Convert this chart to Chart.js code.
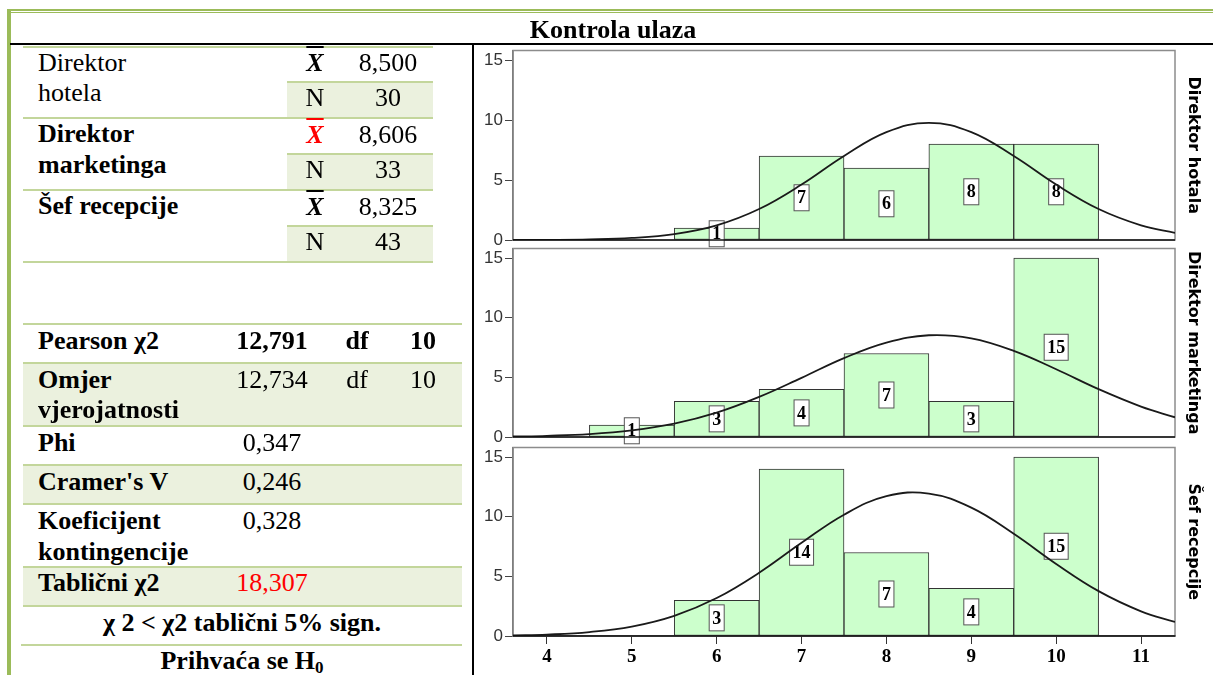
<!DOCTYPE html>
<html>
<head>
<meta charset="utf-8">
<script src="https://cdn.jsdelivr.net/npm/chart.js@4/dist/chart.umd.min.js"></script>
<style>
html,body{margin:0;padding:0;background:#fff;}
body{width:1213px;height:675px;position:relative;overflow:hidden;font-family:"Liberation Serif","Times New Roman",serif;font-size:26px;color:#000;}
.a{position:absolute;white-space:nowrap;line-height:30px;}
.b{font-weight:bold;}
.ln{position:absolute;height:2px;background:#c3d69b;}
.sh{position:absolute;background:#ebf1de;}
.xb{font-weight:bold;font-style:italic;text-decoration:overline;}
.pn{position:absolute;left:473px;width:740px;}
</style>
</head>
<body>
<!-- okvir -->
<div style="position:absolute;left:7px;top:9px;width:1206px;height:2px;background:#9bbb59"></div>
<div style="position:absolute;left:7px;top:12px;width:1206px;height:1px;background:#9bbb59"></div>
<div style="position:absolute;left:7px;top:9px;width:4px;height:666px;background:#9bbb59"></div>
<div style="position:absolute;left:10px;top:43px;width:1203px;height:2px;background:#000"></div>
<div style="position:absolute;left:472px;top:43px;width:2px;height:632px;background:#000"></div>

<!-- gornja tablica -->
<div class="sh" style="left:287px;top:83px;width:146px;height:34px"></div>
<div class="sh" style="left:287px;top:155px;width:146px;height:34px"></div>
<div class="sh" style="left:287px;top:227px;width:146px;height:34px"></div>
<div class="ln" style="left:23px;top:46px;width:410px"></div>
<div class="ln" style="left:287px;top:81px;width:146px"></div>
<div class="ln" style="left:23px;top:117px;width:410px"></div>
<div class="ln" style="left:287px;top:153px;width:146px"></div>
<div class="ln" style="left:23px;top:189px;width:410px"></div>
<div class="ln" style="left:287px;top:225px;width:146px"></div>
<div class="ln" style="left:23px;top:261px;width:410px"></div>

<!-- donja tablica -->
<div class="sh" style="left:23px;top:364px;width:439px;height:61px"></div>
<div class="sh" style="left:23px;top:466px;width:439px;height:37px"></div>
<div class="sh" style="left:23px;top:568px;width:439px;height:37px"></div>
<div class="ln" style="left:23px;top:323px;width:439px"></div>
<div class="ln" style="left:23px;top:362px;width:439px"></div>
<div class="ln" style="left:23px;top:425px;width:439px"></div>
<div class="ln" style="left:23px;top:464px;width:439px"></div>
<div class="ln" style="left:23px;top:503px;width:439px"></div>
<div class="ln" style="left:23px;top:566px;width:439px"></div>
<div class="ln" style="left:23px;top:605px;width:439px"></div>
<div class="ln" style="left:21px;top:644px;width:441px"></div>

<div class="pn" style="top:40px;height:215px"><canvas id="c1"></canvas></div>
<div class="pn" style="top:238px;height:215px"><canvas id="c2"></canvas></div>
<div class="pn" style="top:437px;height:238px"><canvas id="c3"></canvas></div>

<script>
// Podaci
const xTicks=[4,5,6,7,8,9,10,11];
const hotelX=[6,7,8,9,10];
const hotelN=[1,7,6,8,8];
const marketX=[5,6,7,8,9,10];
const marketN=[1,3,4,7,3,15];
const recepX=[6,7,8,9,10];
const recepN=[3,14,7,4,15];
// krivulje (očitane sa slike)
const curveX=[3.6,4,4.5,5,5.5,6,6.5,7,7.5,8,8.5,9,9.5,10,10.5,11,11.4];
const hotelCurve=[0.00,0.01,0.05,0.17,0.49,1.22,2.58,4.62,7.00,8.99,9.77,8.99,7.00,4.62,2.58,1.22,0.59];
const marketCurve=[0.04,0.10,0.24,0.55,1.12,2.04,3.36,4.96,6.61,7.91,8.53,8.27,7.22,5.68,4.01,2.55,1.65];
const recepCurve=[0.05,0.12,0.33,0.79,1.69,3.18,5.30,7.81,10.17,11.72,11.94,10.76,8.57,6.04,3.76,2.07,1.18];
const panelTitles=["Direktor hotala","Direktor marketinga","Šef recepcije"];

// ---------- Tablica (tekst) ----------
function put(x,base,html,cls,center){
  const d=document.createElement("div");
  d.className="a "+(cls||"");
  d.innerHTML=html;
  d.style.top=(base-24)+"px";
  if(center){d.style.left=(x-200)+"px";d.style.width="400px";d.style.textAlign="center";}
  else d.style.left=x+"px";
  document.body.appendChild(d);
}
put(613,39,"Kontrola ulaza","b",true);
put(38,72,"Direktor");put(38,102,"hotela");
put(315,72,'<span class="xb">X</span>',"",true);put(388,72,"8,500","",true);
put(315,107,"N","",true);put(388,107,"30","",true);
put(38,143,"Direktor","b");put(38,174,"marketinga","b");
put(315,144,'<span class="xb" style="color:#f00">X</span>',"",true);put(388,144,"8,606","",true);
put(315,179,"N","",true);put(388,179,"33","",true);
put(38,215,"Šef recepcije","b");
put(315,216,'<span class="xb">X</span>',"",true);put(388,216,"8,325","",true);
put(315,251,"N","",true);put(388,251,"43","",true);

put(38,350,"Pearson χ2","b");put(272,350,"12,791","b",true);put(357,350,"df","b",true);put(423,350,"10","b",true);
put(38,389,"Omjer","b");put(38,419,"vjerojatnosti","b");
put(272,389,"12,734","",true);put(357,389,"df","",true);put(423,389,"10","",true);
put(38,452,"Phi","b");put(272,452,"0,347","",true);
put(38,491,"Cramer's V","b");put(272,491,"0,246","",true);
put(38,530,"Koeficijent","b");put(38,561,"kontingencije","b");put(272,530,"0,328","",true);
put(38,592,"Tablični χ2","b");put(272,592,'<span style="color:#f00">18,307</span>',"",true);
put(242,632,"χ 2 &lt; χ2 tablični 5% sign.","b",true);
put(242,670,'Prihvaća se H<span style="font-size:17px;position:relative;top:4px">0</span>',"b",true);

// ---------- Grafovi ----------
const framePlugin={id:"frame",
  beforeDatasetsDraw(c){const a=c.chartArea,x=c.ctx;x.save();x.strokeStyle="#8c8c8c";x.lineWidth=1.5;
    x.strokeRect(a.left,a.top,a.right-a.left,a.bottom-a.top);x.restore();},
  afterDatasetsDraw(c){const a=c.chartArea,x=c.ctx;x.save();x.strokeStyle="#111";x.lineWidth=1.5;
    x.beginPath();x.moveTo(a.left,a.bottom);x.lineTo(a.right,a.bottom);x.stroke();x.restore();}
};
const countLabels={id:"countLabels",
  afterDatasetDraw(c,args){
    if(args.index!==0) return;
    const ctx=c.ctx,ds=c.data.datasets[0];
    ctx.save();
    ctx.font='bold 18px "Liberation Serif", serif';
    args.meta.data.forEach((bar,i)=>{
      const t=String(ds.data[i].y);
      const cy=(bar.y+bar.base)/2;
      const w=ctx.measureText(t).width+6,h=26;
      ctx.fillStyle="#fff";ctx.fillRect(bar.x-w/2,cy-h/2,w,h);
      ctx.strokeStyle="#555";ctx.lineWidth=1;ctx.strokeRect(bar.x-w/2,cy-h/2,w,h);
      ctx.fillStyle="#000";ctx.textAlign="center";ctx.textBaseline="middle";
      ctx.fillText(t,bar.x,cy+1);
    });
    ctx.restore();
  }
};

function makePanel(id,xs,counts,curve,title,showX,pad){
  return new Chart(document.getElementById(id),{
    data:{datasets:[
      {type:"bar",data:xs.map((x,i)=>({x:x,y:counts[i]})),backgroundColor:"#ccffcc",borderColor:"#333",
        borderWidth:1,borderSkipped:false,barPercentage:1,categoryPercentage:1,order:2},
      {type:"line",data:curveX.map((x,i)=>({x:x,y:curve[i]})),borderColor:"#1a1a1a",borderWidth:1.8,
        pointRadius:0,tension:0.4,fill:false,order:1}
    ]},
    options:{
      responsive:true,maintainAspectRatio:false,animation:false,
      layout:{padding:pad},
      plugins:{legend:{display:false},tooltip:{enabled:false}},
      scales:{
        x:{type:"linear",min:3.6,max:11.4,display:showX,offset:false,
          afterBuildTicks:s=>{s.ticks=xTicks.map(v=>({value:v}));},
          ticks:{color:"#000",font:{family:'"Liberation Serif", serif',size:19,weight:"bold"},padding:2,maxRotation:0,autoSkip:false},
          grid:{drawOnChartArea:false,offset:false,tickLength:8,color:"#333"},
          border:{display:true,color:"#111",width:1.5},
          afterFit:s=>{s.height=showX?39:0;}},
        y:{min:0,max:15.8,position:"left",
          ticks:{stepSize:5,includeBounds:false,color:"#333",padding:2,
            font:{family:'"Liberation Sans Narrow","Arial Narrow","Liberation Sans",sans-serif',size:17,lineHeight:1}},
          grid:{drawOnChartArea:false,tickLength:8,color:"#444"},
          border:{display:true,color:"#555",width:1.5},
          afterFit:s=>{s.width=40;}},
        t:{type:"linear",position:"right",min:0,max:1,
          ticks:{display:false},grid:{display:false},border:{display:false},
          title:{display:true,text:title,color:"#000",padding:{top:10,bottom:0},
            font:{family:'"DejaVu Sans",sans-serif',size:16,weight:"bold"}},
          afterFit:s=>{s.width=38;}}
      }
    },
    plugins:[framePlugin,countLabels]
  });
}

makePanel("c1",hotelX,hotelN,hotelCurve,panelTitles[0],false,{top:10,bottom:15,left:0,right:0});
makePanel("c2",marketX,marketN,marketCurve,panelTitles[1],false,{top:10,bottom:16,left:0,right:0});
makePanel("c3",recepX,recepN,recepCurve,panelTitles[2],true,{top:10,bottom:0,left:0,right:0});
</script>
</body>
</html>
